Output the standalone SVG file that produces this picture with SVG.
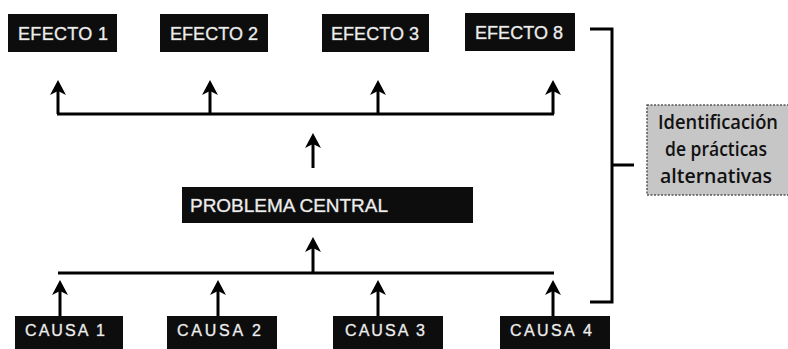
<svg xmlns="http://www.w3.org/2000/svg" width="788" height="349" viewBox="0 0 788 349">
<style>
.box{fill:#0d0d0d}
.lbl{font-family:"Liberation Sans",Arial,sans-serif;fill:#ededed;stroke:#8a8a8a;stroke-width:0.6;paint-order:stroke}
.ln{stroke:#000;stroke-width:3;fill:none}
.side{font-family:"Open Sans","Noto Sans",sans-serif;font-size:20px;font-weight:600;fill:#111;text-anchor:middle}
</style>
<defs>
<marker id="ah" markerUnits="userSpaceOnUse" viewBox="-8 -9 18 18" markerWidth="18" markerHeight="18" refX="0" refY="0" orient="auto" overflow="visible">
<path d="M10,0 L-5,-8 L-1,0 L-5,8 Z" fill="#000"/>
</marker>
</defs>
<rect width="788" height="349" fill="#fff"/>
<g id="connectors">
<path class="ln" d="M57,114 H554"/>
<path class="ln" d="M58,114 V90" marker-end="url(#ah)"/>
<path class="ln" d="M210,114 V90" marker-end="url(#ah)"/>
<path class="ln" d="M378,114 V90" marker-end="url(#ah)"/>
<path class="ln" d="M553,114 V90" marker-end="url(#ah)"/>
<path class="ln" d="M313,168 V143" marker-end="url(#ah)"/>
<path class="ln" d="M313,273 V247" marker-end="url(#ah)"/>
<path class="ln" d="M58,273 H554"/>
<path class="ln" d="M60,316 V290" marker-end="url(#ah)"/>
<path class="ln" d="M218,316 V290" marker-end="url(#ah)"/>
<path class="ln" d="M378,316 V290" marker-end="url(#ah)"/>
<path class="ln" d="M553,316 V290" marker-end="url(#ah)"/>
<path class="ln" d="M590,29 H612 V302 H590"/>
<path class="ln" d="M612,165 H634"/>
</g>
<g id="efecto1"><rect class="box" x="8" y="14" width="109" height="38"/><text class="lbl" x="18" y="40" font-size="18" textLength="90">EFECTO 1</text></g>
<g id="efecto2"><rect class="box" x="160" y="14" width="108" height="38"/><text class="lbl" x="170" y="40" font-size="18" textLength="88">EFECTO 2</text></g>
<g id="efecto3"><rect class="box" x="322" y="14" width="107" height="38"/><text class="lbl" x="331" y="40" font-size="18" textLength="88">EFECTO 3</text></g>
<g id="efecto8"><rect class="box" x="465" y="13" width="110" height="38"/><text class="lbl" x="475" y="39" font-size="18" textLength="88">EFECTO 8</text></g>
<g id="problema"><rect class="box" x="182" y="187" width="291" height="36"/><text class="lbl" x="190" y="212" font-size="19" textLength="198">PROBLEMA CENTRAL</text></g>
<g id="causa1"><rect class="box" x="15" y="316" width="108" height="40"/><text class="lbl" x="25" y="336" font-size="16" textLength="80">CAUSA 1</text></g>
<g id="causa2"><rect class="box" x="167" y="316" width="110" height="40"/><text class="lbl" x="177" y="336" font-size="16" textLength="84">CAUSA 2</text></g>
<g id="causa3"><rect class="box" x="333" y="316" width="110" height="40"/><text class="lbl" x="345" y="336" font-size="16" textLength="80">CAUSA 3</text></g>
<g id="causa4"><rect class="box" x="500" y="316" width="110" height="40"/><text class="lbl" x="510" y="336" font-size="16" textLength="82">CAUSA 4</text></g>
<g id="identificacion">
<rect x="647" y="105" width="145" height="90" fill="#c6c6c6" stroke="#555" stroke-width="1.5" stroke-dasharray="2 1.5"/>
<text class="side" x="718" y="129" textLength="120" lengthAdjust="spacingAndGlyphs">Identificación</text>
<text class="side" x="716" y="156" textLength="102" lengthAdjust="spacingAndGlyphs">de prácticas</text>
<text class="side" x="716" y="183" textLength="112" lengthAdjust="spacingAndGlyphs">alternativas</text>
</g>
</svg>
